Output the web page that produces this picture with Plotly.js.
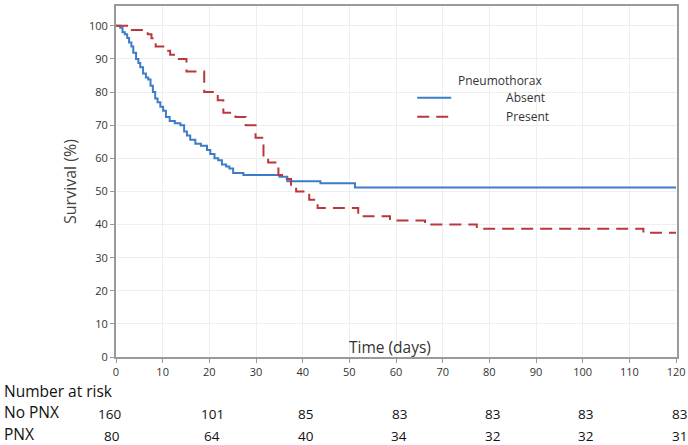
<!DOCTYPE html>
<html>
<head>
<meta charset="utf-8">
<script src="https://cdn.plot.ly/plotly-3.0.1.min.js"></script>
<style>html,body{margin:0;padding:0;background:#fff;}#chart{width:688px;height:445px;}</style>
</head>
<body>
<div id="chart"></div>
<script>
// Kaplan-Meier step data (time in days, survival %)
const absentTime = [0,0.9,1.4,1.9,2.4,2.8,3.3,3.7,4.3,4.8,5.2,5.8,6.4,6.9,7.4,7.9,8.4,8.9,9.5,10.1,10.7,11.5,12.6,13.8,14.6,15.2,15.9,17.0,18.2,19.5,20.2,21.1,21.9,22.7,23.6,24.3,25.1,27.3,35.0,36.7,43.8,51.2,120];
const absentSurv = [100,99.4,98.1,97.5,96.3,95,93.8,91.9,90,88.8,87.5,85.6,84.4,83.8,81.9,80,78.1,76.9,75.6,74.4,72.5,71.3,70.6,70,68.1,66.9,65.6,64.4,63.8,62.5,61.3,60,59.4,58.1,57.5,56.9,55.6,55,54.4,53.1,52.5,51.2,51.2];
const presentTime = [0,3.0,6.8,7.6,8.5,10.8,11.6,12.9,15.1,18.9,21.8,23.0,25.6,27.8,29.9,31.6,32.6,34.8,36.6,37.5,38.6,41.4,43.2,51.9,58.7,66.2,77.3,113,120];
const presentSurv = [100,98.75,97.5,96.25,93.75,92.5,91.25,90,86.25,80,77.5,73.75,72.5,70,66.25,60,58.75,55,53.75,51.25,50,47.5,45,42.5,41.25,40,38.75,37.5,37.5];

const xTicks = [0,10,20,30,40,50,60,70,80,90,100,110,120];
const yTicks = [0,10,20,30,40,50,60,70,80,90,100];
const riskTimes = [0,20,40,60,80,100,120];
const riskNoPNX = [160,101,85,83,83,83,83];
const riskPNX = [80,64,40,34,32,32,31];
const riskRowLabels = ["Number at risk","No PNX","PNX"];
const seriesNames = ["Absent","Present"];
const legendTitle = "Pneumothorax";

const FONT = "Open Sans, Noto Sans, sans-serif";
const PAD = "\u00A0".repeat(16);

const traces = [
  {x: absentTime, y: absentSurv, type: "scatter", mode: "lines", name: PAD + seriesNames[0],
   line: {shape: "hv", color: "#3d7cc9", width: 2}},
  {x: presentTime, y: presentSurv, type: "scatter", mode: "lines", name: PAD + seriesNames[1],
   line: {shape: "hv", color: "#b8383c", width: 2, dash: "12px,7px"}}
];

const annotations = [];
annotations.push({text: "Time (days)", xref: "x", yref: "paper", x: 58.7, y: 0.0285,
  xanchor: "center", yanchor: "middle",
  showarrow: false, font: {family: FONT, size: 15.5, color: "#333"}});
annotations.push({text: legendTitle, xref: "paper", yref: "paper", x: 0.763, y: 0.789,
  xanchor: "right", yanchor: "middle", showarrow: false, font: {family: FONT, size: 12, color: "#333"}});
const rowY = [-0.097, -0.157, -0.219];
riskRowLabels.forEach((lab, i) => {
  annotations.push({text: lab, xref: "paper", yref: "paper", x: -0.203, y: rowY[i],
    xanchor: "left", yanchor: "middle", showarrow: false, font: {family: FONT, size: 15.5, color: "#111"}});
});
riskTimes.forEach((t, i) => {
  annotations.push({text: String(riskNoPNX[i]), xref: "x", yref: "paper", x: t, y: -0.163,
    xanchor: "center", yanchor: "middle",
    xshift: i === 0 ? -7 : 3, showarrow: false, font: {family: FONT, size: 13.5, color: "#111"}});
  annotations.push({text: String(riskPNX[i]), xref: "x", yref: "paper", x: t, y: -0.224,
    xanchor: "center", yanchor: "middle",
    xshift: i === 0 ? -4 : 3, showarrow: false, font: {family: FONT, size: 13.5, color: "#111"}});
});

const layout = {
  width: 688, height: 445,
  margin: {l: 116, r: 11, t: 6, b: 88},
  paper_bgcolor: "#fff", plot_bgcolor: "#fff",
  font: {family: FONT, color: "#333"},
  showlegend: true,
  legend: {x: 0.528, y: 0.780, xanchor: "left", yanchor: "top",
    bgcolor: "rgba(0,0,0,0)", itemwidth: 34,
    font: {family: FONT, size: 12, color: "#333"}, tracegroupgap: 0},
  xaxis: {range: [0, 120.2], tickvals: xTicks, ticktext: xTicks.map(String),
    showgrid: true, gridcolor: "#eeeeee", gridwidth: 1, zeroline: false,
    showline: true, linecolor: "#9a9a9a", linewidth: 2, mirror: true,
    ticks: "outside", ticklen: 4, tickcolor: "#9a9a9a",
    tickfont: {family: FONT, size: 11, color: "#333"}},
  yaxis: {range: [0, 106], tickvals: yTicks, ticktext: yTicks.map(String),
    showgrid: true, gridcolor: "#eeeeee", gridwidth: 1, zeroline: false,
    showline: true, linecolor: "#9a9a9a", linewidth: 2, mirror: true,
    ticks: "outside", ticklen: 4, tickcolor: "#9a9a9a",
    tickfont: {family: FONT, size: 11, color: "#333"},
    title: {text: "Survival (%)", standoff: 8, font: {family: FONT, size: 16, color: "#444"}}},
  annotations: annotations
};

Plotly.newPlot("chart", traces, layout, {displayModeBar: false, staticPlot: true});
</script>
</body>
</html>
